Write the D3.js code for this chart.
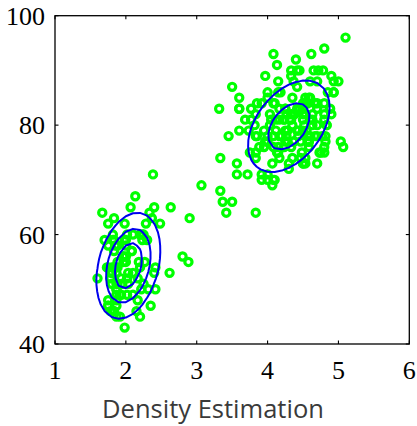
<!DOCTYPE html>
<html><head><meta charset="utf-8">
<script src="https://cdn.jsdelivr.net/npm/d3@7"></script>
<style>body{margin:0;background:#fff;overflow:hidden} .num{font-family:'Liberation Serif','Times New Roman',serif;font-size:26px}</style>
</head><body>
<svg id="c" width="417" height="426"></svg>
<script>
const eruptions = [3.600,1.800,3.333,2.283,4.533,2.883,4.700,3.600,1.950,4.350,1.833,3.917,4.200,1.750,4.700,2.167,1.750,4.800,1.600,4.250,1.800,1.750,3.450,3.067,4.533,3.600,1.967,4.083,3.850,4.433,4.300,4.467,3.367,4.033,3.833,2.017,1.867,4.833,1.833,4.783,4.350,1.883,4.567,1.750,4.533,3.317,3.833,2.100,4.633,2.000,4.800,4.716,1.833,4.833,1.733,4.883,3.717,1.667,4.567,4.317,2.233,4.500,1.750,4.800,1.817,4.400,4.167,4.700,2.067,4.700,4.033,1.967,4.500,4.000,1.983,5.067,2.017,4.567,3.883,3.600,4.133,4.333,4.100,2.633,4.067,4.933,3.950,4.517,2.167,4.000,2.200,4.333,1.867,4.817,1.833,4.300,4.667,3.750,1.867,4.900,2.483,4.367,2.100,4.500,4.050,1.867,4.700,1.783,4.850,3.683,4.733,2.300,4.900,4.417,1.700,4.633,2.317,4.600,1.817,4.417,2.617,4.067,4.250,1.967,4.600,3.767,1.917,4.500,2.267,4.650,1.867,4.167,2.800,4.333,1.833,4.383,1.883,4.933,2.033,3.733,4.233,2.233,4.533,4.817,4.333,1.983,4.633,2.017,5.100,1.800,5.033,4.000,2.400,4.600,3.567,4.000,4.500,4.083,1.800,3.967,2.200,4.150,2.000,3.833,3.500,4.583,2.367,5.000,1.933,4.617,1.917,2.083,4.583,3.333,4.167,4.333,4.500,2.417,4.000,4.167,1.883,4.583,4.250,3.767,2.033,4.433,4.083,1.833,4.417,2.183,4.800,1.833,4.800,4.100,3.966,4.233,3.500,4.366,2.250,4.667,2.100,4.350,4.133,1.867,4.600,1.783,4.367,3.850,1.933,4.500,2.383,4.700,1.867,3.833,3.417,4.233,2.400,4.800,2.000,4.150,1.867,4.267,1.750,4.483,4.000,4.117,4.083,4.267,3.917,4.550,4.083,2.417,4.183,2.217,4.450,1.883,1.850,4.283,3.950,2.333,4.150,2.350,4.933,2.900,4.583,3.833,2.083,4.367,2.133,4.350,2.200,4.450,3.567,4.500,4.150,3.817,3.917,4.450,2.000,4.283,4.767,4.533,1.850,4.250,1.983,2.250,4.750,4.117,2.150,4.417,1.817,4.467];
const waiting = [79,54,74,62,85,55,88,85,51,85,54,84,78,47,83,52,62,84,52,79,51,47,78,69,74,83,55,76,78,79,73,77,66,80,74,52,48,80,59,90,80,58,84,58,73,83,64,53,82,59,75,90,54,80,54,83,71,64,77,81,59,84,48,82,60,92,78,78,65,73,82,56,79,71,62,76,60,78,76,83,75,82,70,65,73,88,76,80,48,86,60,90,50,78,63,72,84,75,51,82,62,88,49,83,81,47,84,52,86,81,75,59,89,79,59,81,50,85,59,87,53,69,77,56,88,81,45,82,55,90,45,83,56,89,46,82,51,86,53,79,81,60,82,77,76,59,80,49,96,53,77,77,65,81,71,70,81,93,53,89,45,86,58,78,66,76,63,88,52,93,49,57,77,68,81,81,73,50,85,74,55,77,83,83,51,78,84,46,83,55,81,57,76,84,77,81,87,77,51,78,60,82,91,53,78,46,77,84,49,83,71,80,49,75,64,76,53,94,55,76,50,82,54,75,78,79,78,78,70,79,70,54,86,50,90,54,54,77,79,64,75,47,86,63,85,82,57,82,67,74,54,83,73,73,88,80,71,83,56,79,78,84,58,83,43,60,75,81,46,90,46,74];
const xTicks = [1,2,3,4,5,6];
const yTicks = [40,60,80,100];
const xLabel = "Density Estimation";
// Two-component mixture density, parameters
const compMeanX = [2.035, 4.30];
const compMeanY = [54.3, 79.8];
const compSdX = [0.274, 0.421];
const compSdY = [5.91, 6.13];
const compRho = [0.29, 0.42];
const compWeight = [0.5, 0.5];
const contourLevels = [0.0134, 0.0267, 0.0401];

const W = 417, H = 426;
const svg = d3.select("#c");
svg.append("rect").attr("width", W).attr("height", H).attr("fill", "#fff");
const L = 55, R = 409.3, T = 15.7, B = 344;
const x = d3.scaleLinear().domain([1, 6]).range([L, R]);
const y = d3.scaleLinear().domain([40, 100]).range([B, T]);

function density(px, py) {
  let s = 0;
  for (let k = 0; k < compWeight.length; k++) {
    const u = (px - compMeanX[k]) / compSdX[k];
    const v = (py - compMeanY[k]) / compSdY[k];
    const r = compRho[k];
    const q = (u*u - 2*r*u*v + v*v) / (1 - r*r);
    s += compWeight[k] * Math.exp(-q/2) / (2*Math.PI*compSdX[k]*compSdY[k]*Math.sqrt(1 - r*r));
  }
  return s;
}

// points
const g = svg.append("g");
g.selectAll("circle").data(d3.range(eruptions.length)).join("circle")
  .attr("cx", i => x(eruptions[i])).attr("cy", i => y(waiting[i]))
  .attr("r", 3.6).attr("fill", "none").attr("stroke", "#00ff00").attr("stroke-width", 3.2);

// contours
const nx = 51, ny = 51, x0 = 1, dx = 0.1, y0 = 40, dy = 1.2;
const vals = new Array(nx*ny);
for (let j = 0; j < ny; j++) for (let i = 0; i < nx; i++) vals[j*nx+i] = density(x0 + i*dx, y0 + j*dy);
const cs = d3.contours().size([nx, ny]).thresholds(contourLevels)(vals);
const line = d3.line().x(p => x(x0 + (p[0]-0.5)*dx)).y(p => y(y0 + (p[1]-0.5)*dy));
cs.forEach(c => {
  c.coordinates.forEach(poly => poly.forEach(ring => {
    svg.append("path").attr("d", line(ring) + "Z").attr("fill", "none")
      .attr("stroke", "#0000ee").attr("stroke-width", 2).attr("stroke-linejoin", "round");
  }));
});

// box + ticks
svg.append("rect").attr("x", L).attr("y", T).attr("width", R-L).attr("height", B-T)
  .attr("fill", "none").attr("stroke", "#000").attr("stroke-width", 1.3);
const tl = 3.5;
xTicks.forEach(t => {
  svg.append("line").attr("x1", x(t)).attr("x2", x(t)).attr("y1", B).attr("y2", B-tl).attr("stroke", "#000").attr("stroke-width", 1.1);
  svg.append("line").attr("x1", x(t)).attr("x2", x(t)).attr("y1", T).attr("y2", T+tl).attr("stroke", "#000").attr("stroke-width", 1.1);
  svg.append("text").attr("class", "num").attr("x", x(t)).attr("y", 379).attr("text-anchor", "middle")
    .attr("fill", "#000").text(t);
});
yTicks.forEach(t => {
  svg.append("line").attr("x1", L).attr("x2", L+tl).attr("y1", y(t)).attr("y2", y(t)).attr("stroke", "#000").attr("stroke-width", 1.1);
  svg.append("line").attr("x1", R).attr("x2", R-tl).attr("y1", y(t)).attr("y2", y(t)).attr("stroke", "#000").attr("stroke-width", 1.1);
  svg.append("text").attr("class", "num").attr("x", 45).attr("y", y(t) + 9).attr("text-anchor", "end")
    .attr("fill", "#000").text(t);
});
const title = svg.append("text").attr("x", 213).attr("y", 418).attr("text-anchor", "middle")
  .attr("font-family", "Open Sans, sans-serif").attr("font-size", 25).attr("fill", "#3a3a3a").text(xLabel);
const tw = title.node().getComputedTextLength();
title.attr("font-size", 25 * 222 / tw);
</script>
</body></html>
